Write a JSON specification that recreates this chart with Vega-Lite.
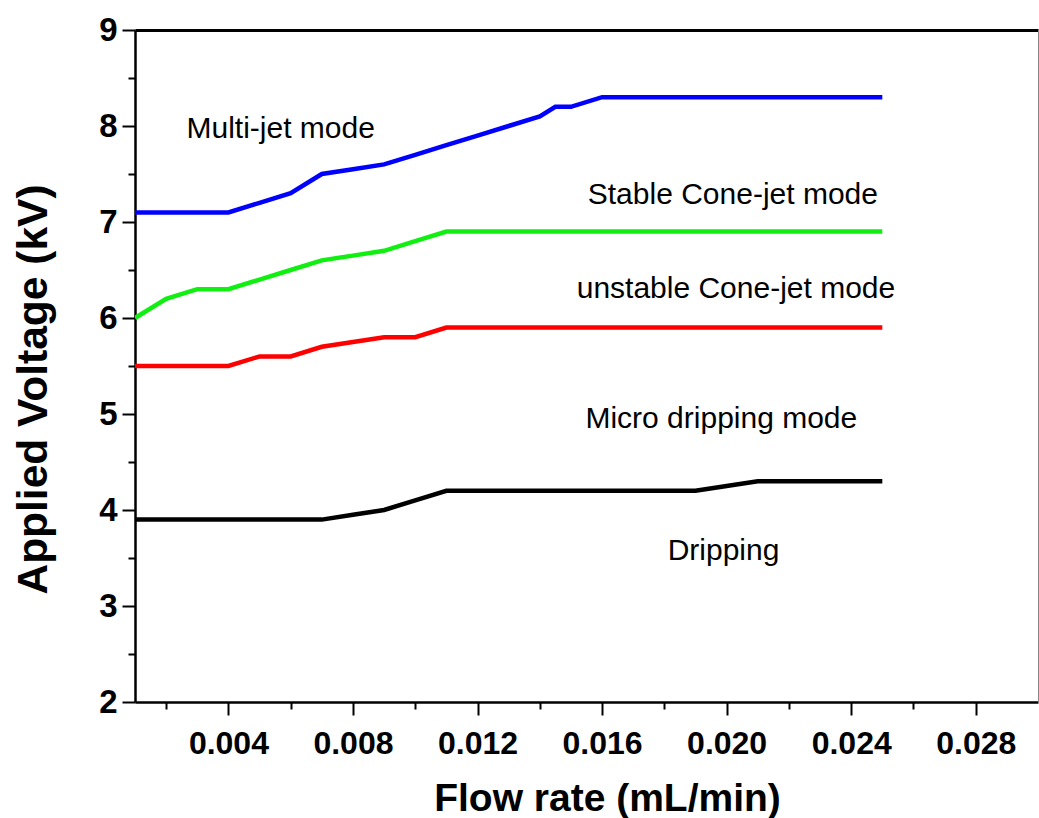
{
  "$schema": "https://vega.github.io/schema/vega-lite/v6.json",
  "autosize": {"type": "none"},
  "width": 903,
  "height": 672,
  "padding": {"left": 135, "top": 30, "right": 1, "bottom": 116},
  "background": "white",
  "config": {"view": {"stroke": null}, "font": "Liberation Sans"},
  "datasets": {
    "lines": [
      {"series": "Multi-jet", "flow": 0.001, "voltage": 7.1},
      {"series": "Multi-jet", "flow": 0.002, "voltage": 7.1},
      {"series": "Multi-jet", "flow": 0.003, "voltage": 7.1},
      {"series": "Multi-jet", "flow": 0.004, "voltage": 7.1},
      {"series": "Multi-jet", "flow": 0.005, "voltage": 7.2},
      {"series": "Multi-jet", "flow": 0.006, "voltage": 7.3},
      {"series": "Multi-jet", "flow": 0.007, "voltage": 7.5},
      {"series": "Multi-jet", "flow": 0.008, "voltage": 7.55},
      {"series": "Multi-jet", "flow": 0.009, "voltage": 7.6},
      {"series": "Multi-jet", "flow": 0.010, "voltage": 7.7},
      {"series": "Multi-jet", "flow": 0.011, "voltage": 7.8},
      {"series": "Multi-jet", "flow": 0.012, "voltage": 7.9},
      {"series": "Multi-jet", "flow": 0.013, "voltage": 8.0},
      {"series": "Multi-jet", "flow": 0.014, "voltage": 8.1},
      {"series": "Multi-jet", "flow": 0.0145, "voltage": 8.2},
      {"series": "Multi-jet", "flow": 0.015, "voltage": 8.2},
      {"series": "Multi-jet", "flow": 0.016, "voltage": 8.3},
      {"series": "Multi-jet", "flow": 0.018, "voltage": 8.3},
      {"series": "Multi-jet", "flow": 0.020, "voltage": 8.3},
      {"series": "Multi-jet", "flow": 0.022, "voltage": 8.3},
      {"series": "Multi-jet", "flow": 0.025, "voltage": 8.3},
      {"series": "Stable Cone-jet", "flow": 0.001, "voltage": 6.0},
      {"series": "Stable Cone-jet", "flow": 0.002, "voltage": 6.2},
      {"series": "Stable Cone-jet", "flow": 0.003, "voltage": 6.3},
      {"series": "Stable Cone-jet", "flow": 0.004, "voltage": 6.3},
      {"series": "Stable Cone-jet", "flow": 0.005, "voltage": 6.4},
      {"series": "Stable Cone-jet", "flow": 0.006, "voltage": 6.5},
      {"series": "Stable Cone-jet", "flow": 0.007, "voltage": 6.6},
      {"series": "Stable Cone-jet", "flow": 0.008, "voltage": 6.65},
      {"series": "Stable Cone-jet", "flow": 0.009, "voltage": 6.7},
      {"series": "Stable Cone-jet", "flow": 0.010, "voltage": 6.8},
      {"series": "Stable Cone-jet", "flow": 0.011, "voltage": 6.9},
      {"series": "Stable Cone-jet", "flow": 0.013, "voltage": 6.9},
      {"series": "Stable Cone-jet", "flow": 0.015, "voltage": 6.9},
      {"series": "Stable Cone-jet", "flow": 0.020, "voltage": 6.9},
      {"series": "Stable Cone-jet", "flow": 0.025, "voltage": 6.9},
      {"series": "Unstable Cone-jet", "flow": 0.001, "voltage": 5.5},
      {"series": "Unstable Cone-jet", "flow": 0.002, "voltage": 5.5},
      {"series": "Unstable Cone-jet", "flow": 0.003, "voltage": 5.5},
      {"series": "Unstable Cone-jet", "flow": 0.004, "voltage": 5.5},
      {"series": "Unstable Cone-jet", "flow": 0.005, "voltage": 5.6},
      {"series": "Unstable Cone-jet", "flow": 0.006, "voltage": 5.6},
      {"series": "Unstable Cone-jet", "flow": 0.007, "voltage": 5.7},
      {"series": "Unstable Cone-jet", "flow": 0.008, "voltage": 5.75},
      {"series": "Unstable Cone-jet", "flow": 0.009, "voltage": 5.8},
      {"series": "Unstable Cone-jet", "flow": 0.010, "voltage": 5.8},
      {"series": "Unstable Cone-jet", "flow": 0.011, "voltage": 5.9},
      {"series": "Unstable Cone-jet", "flow": 0.015, "voltage": 5.9},
      {"series": "Unstable Cone-jet", "flow": 0.020, "voltage": 5.9},
      {"series": "Unstable Cone-jet", "flow": 0.025, "voltage": 5.9},
      {"series": "Micro dripping", "flow": 0.001, "voltage": 3.9},
      {"series": "Micro dripping", "flow": 0.003, "voltage": 3.9},
      {"series": "Micro dripping", "flow": 0.005, "voltage": 3.9},
      {"series": "Micro dripping", "flow": 0.007, "voltage": 3.9},
      {"series": "Micro dripping", "flow": 0.008, "voltage": 3.95},
      {"series": "Micro dripping", "flow": 0.009, "voltage": 4.0},
      {"series": "Micro dripping", "flow": 0.010, "voltage": 4.1},
      {"series": "Micro dripping", "flow": 0.011, "voltage": 4.2},
      {"series": "Micro dripping", "flow": 0.013, "voltage": 4.2},
      {"series": "Micro dripping", "flow": 0.015, "voltage": 4.2},
      {"series": "Micro dripping", "flow": 0.017, "voltage": 4.2},
      {"series": "Micro dripping", "flow": 0.019, "voltage": 4.2},
      {"series": "Micro dripping", "flow": 0.020, "voltage": 4.25},
      {"series": "Micro dripping", "flow": 0.021, "voltage": 4.3},
      {"series": "Micro dripping", "flow": 0.023, "voltage": 4.3},
      {"series": "Micro dripping", "flow": 0.025, "voltage": 4.3}
    ],
    "labels": [
      {"group": "a", "label": "Multi-jet mode", "flow": 0.00568, "voltage": 7.875},
      {"group": "a", "label": "Stable Cone-jet mode", "flow": 0.0202, "voltage": 7.19},
      {"group": "a", "label": "unstable Cone-jet mode", "flow": 0.0203, "voltage": 6.21},
      {"group": "b", "label": "Micro dripping mode", "flow": 0.01983, "voltage": 4.854},
      {"group": "b", "label": "Dripping", "flow": 0.0199, "voltage": 3.48}
    ]
  },
  "resolve": {
    "scale": {"x": "shared", "y": "shared"},
    "axis": {"x": "independent", "y": "independent"}
  },
  "layer": [
    {
      "data": {"name": "lines"},
      "mark": {"type": "line", "strokeWidth": 4.5, "clip": true},
      "encoding": {
        "x": {
          "field": "flow", "type": "quantitative",
          "scale": {"domain": [0.001, 0.030], "nice": false, "zero": false},
          "axis": {
            "orient": "bottom",
            "values": [0.004, 0.008, 0.012, 0.016, 0.020, 0.024, 0.028],
            "format": ".3f",
            "grid": false,
            "domainColor": "black", "domainWidth": 2.5,
            "tickColor": "black", "tickWidth": 2, "tickSize": 13,
            "labelFont": "Liberation Sans", "labelFontSize": 32, "labelFontWeight": "bold",
            "labelColor": "black", "labelPadding": 13,
            "title": "Flow rate (mL/min)",
            "titleFont": "Liberation Sans", "titleFontSize": 39, "titleFontWeight": "bold",
            "titleColor": "black", "titleX": 472, "titleY": 108,
            "titleBaseline": "alphabetic", "titleAlign": "center"
          }
        },
        "y": {
          "field": "voltage", "type": "quantitative",
          "scale": {"domain": [2, 9], "nice": false, "zero": false},
          "axis": {
            "orient": "left",
            "values": [2, 3, 4, 5, 6, 7, 8, 9],
            "grid": false,
            "domainColor": "black", "domainWidth": 2.5,
            "tickColor": "black", "tickWidth": 2, "tickSize": 13,
            "labelFont": "Liberation Sans", "labelFontSize": 33, "labelFontWeight": "bold",
            "labelColor": "black", "labelPadding": 5,
            "title": "Applied Voltage (kV)",
            "titleFont": "Liberation Sans", "titleFontSize": 42.5, "titleFontWeight": "bold",
            "titleColor": "black", "titleX": -89, "titleY": 359, "titleAngle": -90,
            "titleBaseline": "alphabetic", "titleAlign": "center"
          }
        },
        "color": {
          "field": "series", "type": "nominal",
          "scale": {
            "domain": ["Multi-jet", "Stable Cone-jet", "Unstable Cone-jet", "Micro dripping"],
            "range": ["#0000ff", "#11ee11", "#ff0000", "#000000"]
          },
          "legend": null
        }
      }
    },
    {
      "data": {"name": "labels"},
      "transform": [{"filter": "datum.group == 'a'"}],
      "mark": {"type": "text", "font": "Liberation Sans", "fontSize": 30, "color": "black", "align": "center", "baseline": "alphabetic"},
      "encoding": {
        "x": {
          "field": "flow", "type": "quantitative",
          "axis": {
            "orient": "bottom",
            "values": [0.002, 0.006, 0.010, 0.014, 0.018, 0.022, 0.026],
            "labels": false, "domain": false, "grid": false, "title": null,
            "tickColor": "black", "tickWidth": 2, "tickSize": 7
          }
        },
        "y": {
          "field": "voltage", "type": "quantitative",
          "axis": {
            "orient": "left",
            "values": [2.5, 3.5, 4.5, 5.5, 6.5, 7.5, 8.5],
            "labels": false, "domain": false, "grid": false, "title": null,
            "tickColor": "black", "tickWidth": 2, "tickSize": 7
          }
        },
        "text": {"field": "label"}
      }
    },
    {
      "data": {"name": "labels"},
      "transform": [{"filter": "datum.group == 'b'"}],
      "mark": {"type": "text", "font": "Liberation Sans", "fontSize": 30, "color": "black", "align": "center", "baseline": "alphabetic"},
      "encoding": {
        "x": {
          "field": "flow", "type": "quantitative",
          "axis": {
            "orient": "top", "labels": false, "ticks": false, "grid": false, "title": null,
            "domainColor": "black", "domainWidth": 3
          }
        },
        "y": {
          "field": "voltage", "type": "quantitative",
          "axis": {
            "orient": "right", "labels": false, "ticks": false, "grid": false, "title": null,
            "domainColor": "#888888", "domainWidth": 1
          }
        },
        "text": {"field": "label"}
      }
    }
  ]
}
